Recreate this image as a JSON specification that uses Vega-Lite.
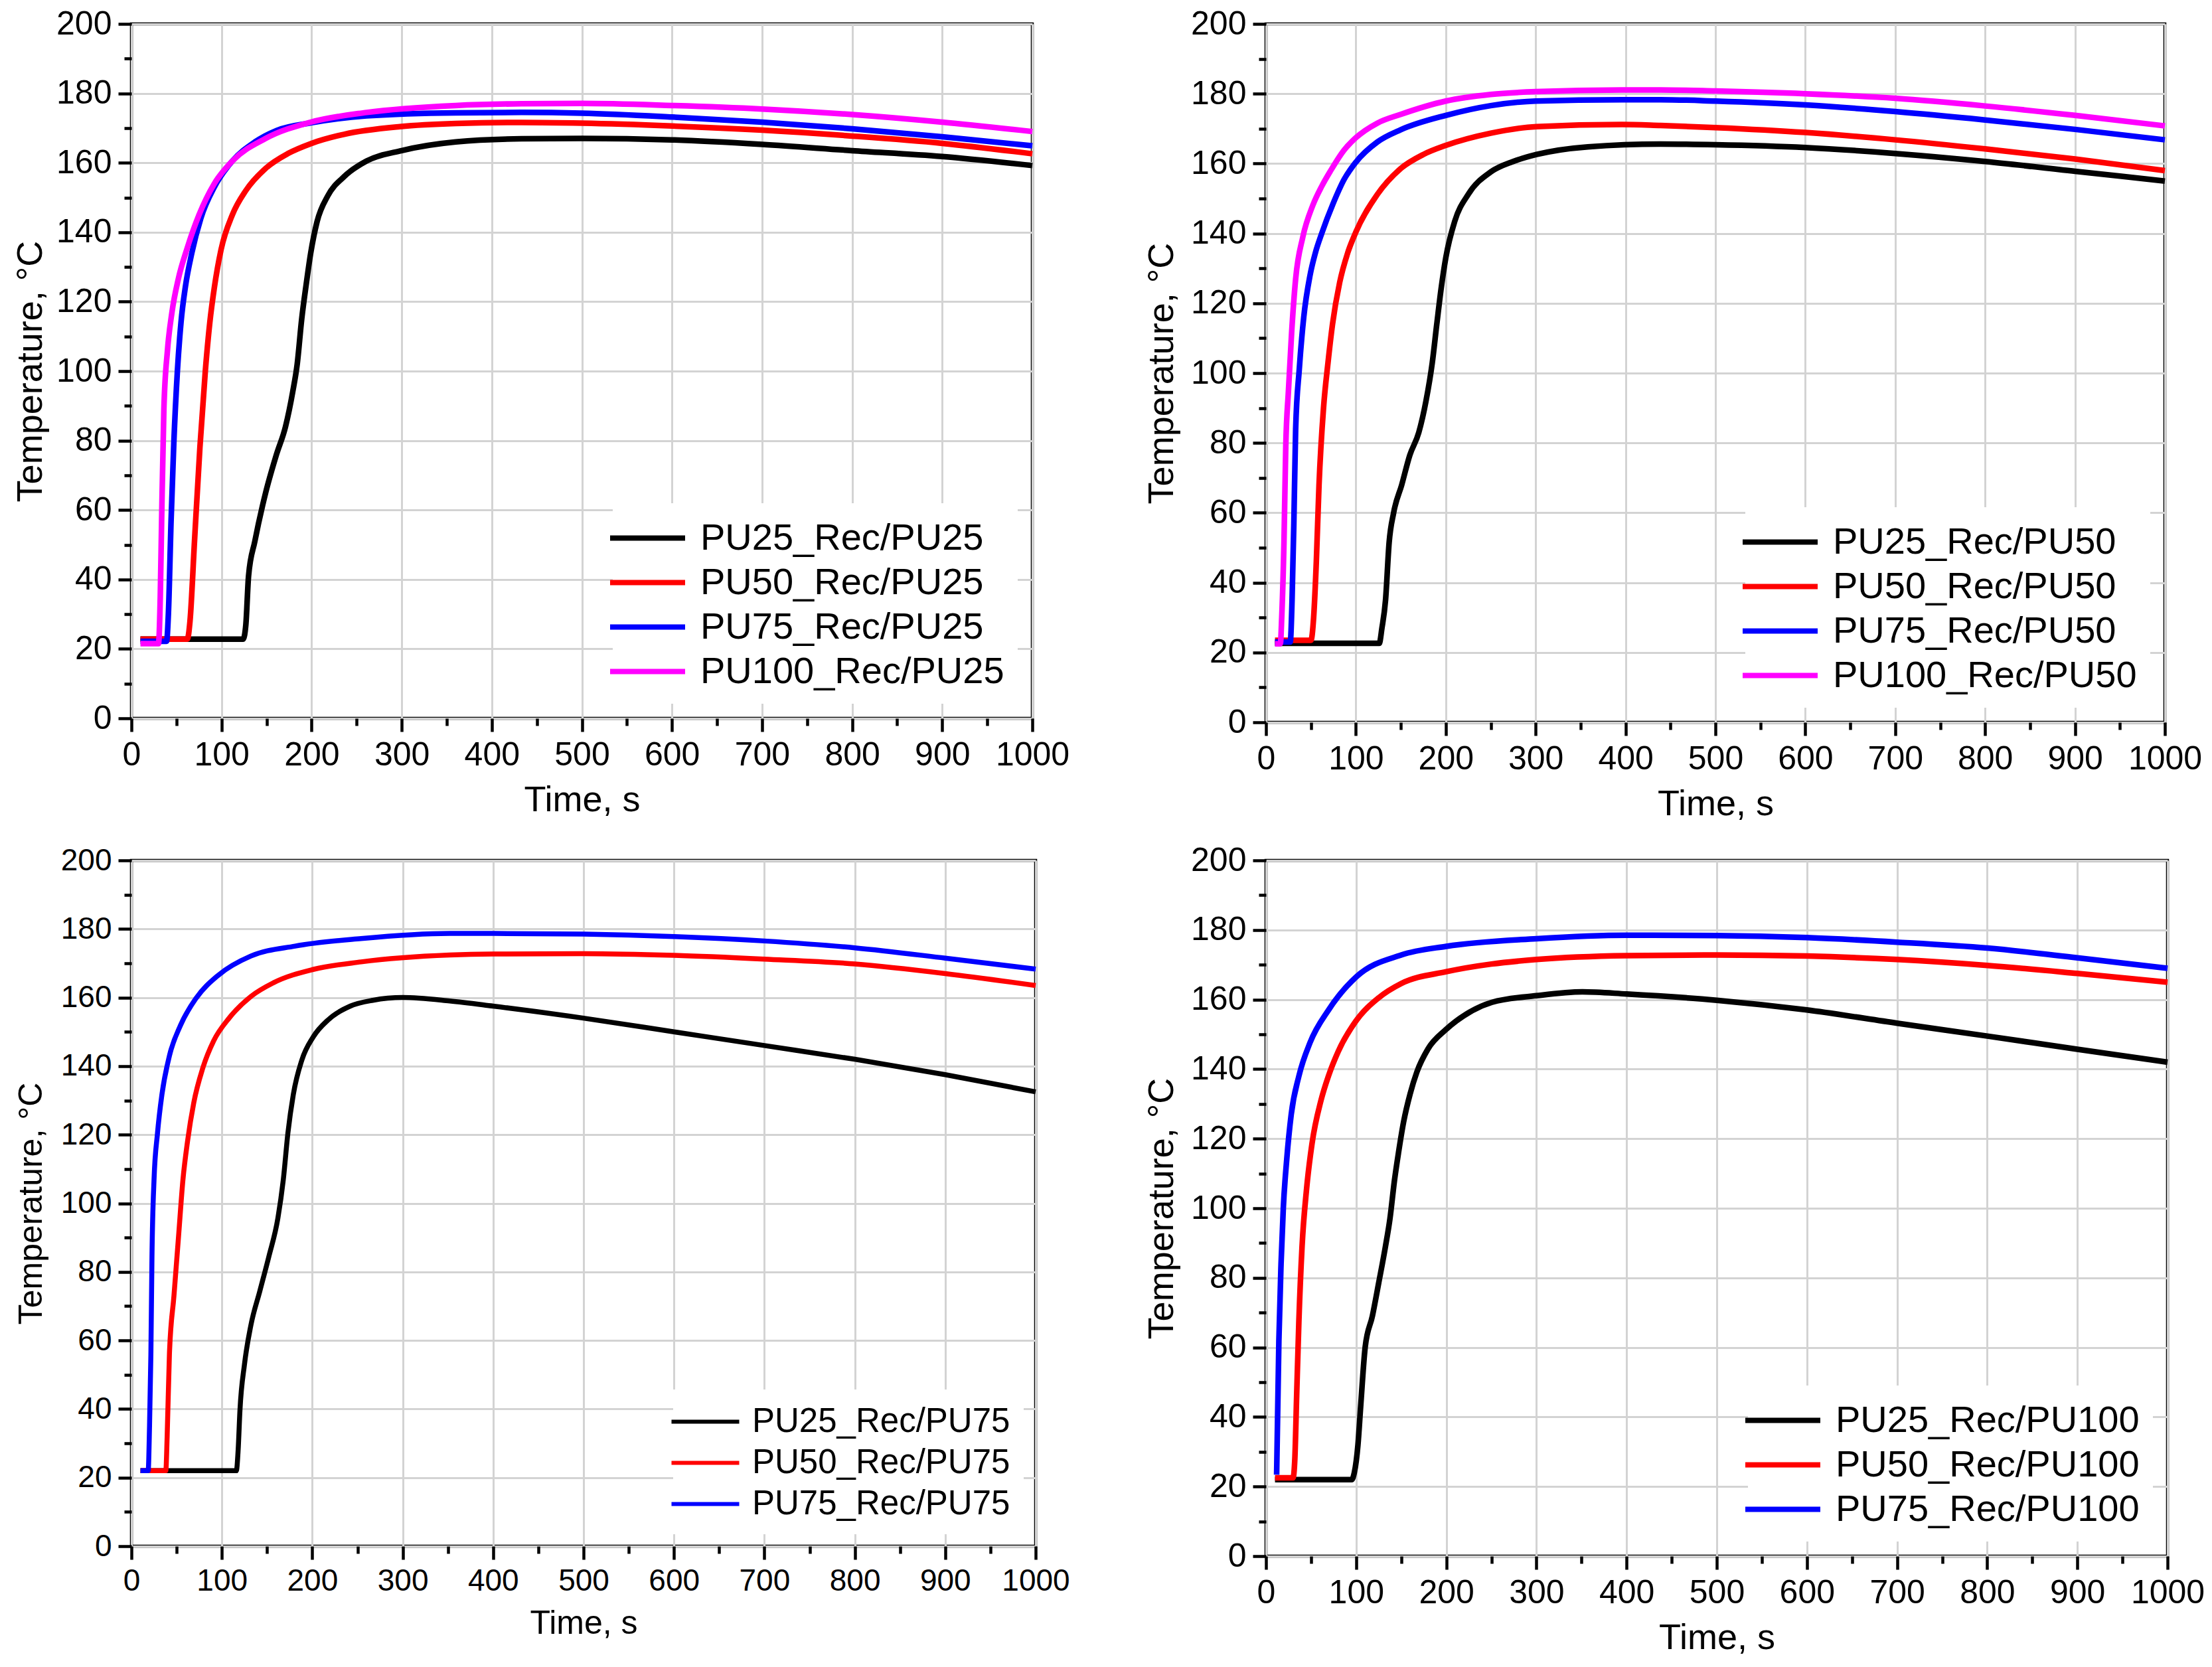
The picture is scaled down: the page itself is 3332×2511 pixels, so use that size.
{
  "$schema": "https://vega.github.io/schema/vega-lite/v6.json",
  "background": "white",
  "padding": {"left": 17, "top": 8, "right": 0, "bottom": 0},
  "config": {
    "font": "Liberation Sans",
    "view": {"stroke": "black", "strokeWidth": 4.5},
    "axis": {
      "labelFontSize": 50,
      "titleFontSize": 54,
      "titleFontWeight": "normal",
      "labelColor": "black",
      "titleColor": "black",
      "tickColor": "black",
      "tickWidth": 4.5,
      "tickSize": 20,
      "domain": false,
      "gridColor": "#D3D3D3",
      "gridWidth": 3,
      "labelPadding": 10,
      "titlePadding": 16,
      "labelFlush": false,
      "labelOverlap": false
    },
    "legend": {
      "orient": "bottom-right",
      "labelFontSize": 56,
      "labelColor": "black",
      "symbolType": "M-2,0H2",
      "symbolStrokeWidth": 8,
      "symbolSize": 3192,
      "labelOffset": 47,
      "rowPadding": 6,
      "fillColor": "white",
      "padding": 20,
      "offset": 22,
      "labelLimit": 0
    }
  },
  "datasets": {
    "p1": [
      {"series": "PU25_Rec/PU25", "time": 10, "temp": 22.8},
      {"series": "PU25_Rec/PU25", "time": 60, "temp": 22.8},
      {"series": "PU25_Rec/PU25", "time": 124, "temp": 22.8},
      {"series": "PU25_Rec/PU25", "time": 127, "temp": 27},
      {"series": "PU25_Rec/PU25", "time": 130, "temp": 41},
      {"series": "PU25_Rec/PU25", "time": 137, "temp": 51},
      {"series": "PU25_Rec/PU25", "time": 149, "temp": 65},
      {"series": "PU25_Rec/PU25", "time": 161, "temp": 76},
      {"series": "PU25_Rec/PU25", "time": 171, "temp": 84},
      {"series": "PU25_Rec/PU25", "time": 179, "temp": 94},
      {"series": "PU25_Rec/PU25", "time": 184, "temp": 102},
      {"series": "PU25_Rec/PU25", "time": 189, "temp": 115},
      {"series": "PU25_Rec/PU25", "time": 194, "temp": 125},
      {"series": "PU25_Rec/PU25", "time": 199, "temp": 134},
      {"series": "PU25_Rec/PU25", "time": 206, "temp": 143},
      {"series": "PU25_Rec/PU25", "time": 218, "temp": 150.5},
      {"series": "PU25_Rec/PU25", "time": 236, "temp": 156},
      {"series": "PU25_Rec/PU25", "time": 261, "temp": 160.5},
      {"series": "PU25_Rec/PU25", "time": 300, "temp": 163.5},
      {"series": "PU25_Rec/PU25", "time": 360, "temp": 166},
      {"series": "PU25_Rec/PU25", "time": 433, "temp": 166.9},
      {"series": "PU25_Rec/PU25", "time": 500, "temp": 167},
      {"series": "PU25_Rec/PU25", "time": 600, "temp": 166.6},
      {"series": "PU25_Rec/PU25", "time": 700, "temp": 165.3},
      {"series": "PU25_Rec/PU25", "time": 800, "temp": 163.5},
      {"series": "PU25_Rec/PU25", "time": 900, "temp": 161.8},
      {"series": "PU25_Rec/PU25", "time": 1000, "temp": 159.2},
      {"series": "PU50_Rec/PU25", "time": 10, "temp": 22.8},
      {"series": "PU50_Rec/PU25", "time": 62, "temp": 22.8},
      {"series": "PU50_Rec/PU25", "time": 65, "temp": 28},
      {"series": "PU50_Rec/PU25", "time": 70, "temp": 51},
      {"series": "PU50_Rec/PU25", "time": 76, "temp": 78},
      {"series": "PU50_Rec/PU25", "time": 82, "temp": 100},
      {"series": "PU50_Rec/PU25", "time": 87, "temp": 114},
      {"series": "PU50_Rec/PU25", "time": 92, "temp": 124},
      {"series": "PU50_Rec/PU25", "time": 99.5, "temp": 135},
      {"series": "PU50_Rec/PU25", "time": 112, "temp": 145},
      {"series": "PU50_Rec/PU25", "time": 127, "temp": 152},
      {"series": "PU50_Rec/PU25", "time": 149, "temp": 158.4},
      {"series": "PU50_Rec/PU25", "time": 174, "temp": 162.7},
      {"series": "PU50_Rec/PU25", "time": 199, "temp": 165.5},
      {"series": "PU50_Rec/PU25", "time": 236, "temp": 168.2},
      {"series": "PU50_Rec/PU25", "time": 298, "temp": 170.4},
      {"series": "PU50_Rec/PU25", "time": 360, "temp": 171.3},
      {"series": "PU50_Rec/PU25", "time": 433, "temp": 171.6},
      {"series": "PU50_Rec/PU25", "time": 500, "temp": 171.4},
      {"series": "PU50_Rec/PU25", "time": 600, "temp": 170.6},
      {"series": "PU50_Rec/PU25", "time": 700, "temp": 169.4},
      {"series": "PU50_Rec/PU25", "time": 800, "temp": 167.7},
      {"series": "PU50_Rec/PU25", "time": 900, "temp": 165.6},
      {"series": "PU50_Rec/PU25", "time": 1000, "temp": 162.6},
      {"series": "PU75_Rec/PU25", "time": 10, "temp": 22.2},
      {"series": "PU75_Rec/PU25", "time": 39, "temp": 22.2},
      {"series": "PU75_Rec/PU25", "time": 41, "temp": 30},
      {"series": "PU75_Rec/PU25", "time": 44, "temp": 57},
      {"series": "PU75_Rec/PU25", "time": 47, "temp": 79},
      {"series": "PU75_Rec/PU25", "time": 51, "temp": 100},
      {"series": "PU75_Rec/PU25", "time": 55, "temp": 114},
      {"series": "PU75_Rec/PU25", "time": 60, "temp": 124.5},
      {"series": "PU75_Rec/PU25", "time": 67, "temp": 134},
      {"series": "PU75_Rec/PU25", "time": 77, "temp": 144},
      {"series": "PU75_Rec/PU25", "time": 92, "temp": 153},
      {"series": "PU75_Rec/PU25", "time": 112, "temp": 160.5},
      {"series": "PU75_Rec/PU25", "time": 137, "temp": 166},
      {"series": "PU75_Rec/PU25", "time": 161, "temp": 169.3},
      {"series": "PU75_Rec/PU25", "time": 199, "temp": 171.5},
      {"series": "PU75_Rec/PU25", "time": 261, "temp": 173.5},
      {"series": "PU75_Rec/PU25", "time": 360, "temp": 174.4},
      {"series": "PU75_Rec/PU25", "time": 433, "temp": 174.5},
      {"series": "PU75_Rec/PU25", "time": 500, "temp": 174.3},
      {"series": "PU75_Rec/PU25", "time": 600, "temp": 173.2},
      {"series": "PU75_Rec/PU25", "time": 700, "temp": 171.7},
      {"series": "PU75_Rec/PU25", "time": 800, "temp": 169.8},
      {"series": "PU75_Rec/PU25", "time": 900, "temp": 167.5},
      {"series": "PU75_Rec/PU25", "time": 1000, "temp": 164.9},
      {"series": "PU100_Rec/PU25", "time": 10, "temp": 21.5},
      {"series": "PU100_Rec/PU25", "time": 30, "temp": 21.5},
      {"series": "PU100_Rec/PU25", "time": 32, "temp": 35},
      {"series": "PU100_Rec/PU25", "time": 33.5, "temp": 57},
      {"series": "PU100_Rec/PU25", "time": 36, "temp": 89},
      {"series": "PU100_Rec/PU25", "time": 40, "temp": 106},
      {"series": "PU100_Rec/PU25", "time": 45, "temp": 117},
      {"series": "PU100_Rec/PU25", "time": 52, "temp": 126.5},
      {"series": "PU100_Rec/PU25", "time": 62, "temp": 135.5},
      {"series": "PU100_Rec/PU25", "time": 75, "temp": 145},
      {"series": "PU100_Rec/PU25", "time": 92, "temp": 154},
      {"series": "PU100_Rec/PU25", "time": 112, "temp": 160.5},
      {"series": "PU100_Rec/PU25", "time": 149, "temp": 167},
      {"series": "PU100_Rec/PU25", "time": 199, "temp": 171.7},
      {"series": "PU100_Rec/PU25", "time": 261, "temp": 174.5},
      {"series": "PU100_Rec/PU25", "time": 360, "temp": 176.5},
      {"series": "PU100_Rec/PU25", "time": 433, "temp": 177},
      {"series": "PU100_Rec/PU25", "time": 500, "temp": 177.1},
      {"series": "PU100_Rec/PU25", "time": 600, "temp": 176.5},
      {"series": "PU100_Rec/PU25", "time": 700, "temp": 175.5},
      {"series": "PU100_Rec/PU25", "time": 800, "temp": 173.9},
      {"series": "PU100_Rec/PU25", "time": 900, "temp": 171.7},
      {"series": "PU100_Rec/PU25", "time": 1000, "temp": 169}
    ],
    "p2": [
      {"series": "PU25_Rec/PU50", "time": 10, "temp": 22.6},
      {"series": "PU25_Rec/PU50", "time": 126, "temp": 22.6},
      {"series": "PU25_Rec/PU50", "time": 129, "temp": 27},
      {"series": "PU25_Rec/PU50", "time": 133, "temp": 35},
      {"series": "PU25_Rec/PU50", "time": 137, "temp": 51.5},
      {"series": "PU25_Rec/PU50", "time": 142, "temp": 60},
      {"series": "PU25_Rec/PU50", "time": 151, "temp": 68},
      {"series": "PU25_Rec/PU50", "time": 160, "temp": 76.5},
      {"series": "PU25_Rec/PU50", "time": 170, "temp": 83},
      {"series": "PU25_Rec/PU50", "time": 178, "temp": 92},
      {"series": "PU25_Rec/PU50", "time": 185, "temp": 103},
      {"series": "PU25_Rec/PU50", "time": 190, "temp": 114},
      {"series": "PU25_Rec/PU50", "time": 195, "temp": 124.5},
      {"series": "PU25_Rec/PU50", "time": 200, "temp": 133},
      {"series": "PU25_Rec/PU50", "time": 210, "temp": 143.5},
      {"series": "PU25_Rec/PU50", "time": 225, "temp": 151.2},
      {"series": "PU25_Rec/PU50", "time": 250, "temp": 157.6},
      {"series": "PU25_Rec/PU50", "time": 275, "temp": 160.6},
      {"series": "PU25_Rec/PU50", "time": 301, "temp": 162.6},
      {"series": "PU25_Rec/PU50", "time": 358, "temp": 164.8},
      {"series": "PU25_Rec/PU50", "time": 439, "temp": 165.6},
      {"series": "PU25_Rec/PU50", "time": 500, "temp": 165.4},
      {"series": "PU25_Rec/PU50", "time": 600, "temp": 164.6},
      {"series": "PU25_Rec/PU50", "time": 700, "temp": 162.9},
      {"series": "PU25_Rec/PU50", "time": 800, "temp": 160.6},
      {"series": "PU25_Rec/PU50", "time": 900, "temp": 157.8},
      {"series": "PU25_Rec/PU50", "time": 1000, "temp": 155},
      {"series": "PU50_Rec/PU50", "time": 10, "temp": 23.5},
      {"series": "PU50_Rec/PU50", "time": 50, "temp": 23.5},
      {"series": "PU50_Rec/PU50", "time": 53, "temp": 30},
      {"series": "PU50_Rec/PU50", "time": 56, "temp": 46},
      {"series": "PU50_Rec/PU50", "time": 59, "temp": 68},
      {"series": "PU50_Rec/PU50", "time": 64, "temp": 90},
      {"series": "PU50_Rec/PU50", "time": 69, "temp": 103},
      {"series": "PU50_Rec/PU50", "time": 74, "temp": 114},
      {"series": "PU50_Rec/PU50", "time": 82, "temp": 126},
      {"series": "PU50_Rec/PU50", "time": 91, "temp": 134.5},
      {"series": "PU50_Rec/PU50", "time": 100, "temp": 140.4},
      {"series": "PU50_Rec/PU50", "time": 124, "temp": 151.2},
      {"series": "PU50_Rec/PU50", "time": 150, "temp": 158.6},
      {"series": "PU50_Rec/PU50", "time": 175, "temp": 162.6},
      {"series": "PU50_Rec/PU50", "time": 200, "temp": 165.2},
      {"series": "PU50_Rec/PU50", "time": 250, "temp": 168.7},
      {"series": "PU50_Rec/PU50", "time": 301, "temp": 170.6},
      {"series": "PU50_Rec/PU50", "time": 396, "temp": 171.2},
      {"series": "PU50_Rec/PU50", "time": 439, "temp": 170.9},
      {"series": "PU50_Rec/PU50", "time": 500, "temp": 170.3},
      {"series": "PU50_Rec/PU50", "time": 600, "temp": 168.9},
      {"series": "PU50_Rec/PU50", "time": 700, "temp": 166.8},
      {"series": "PU50_Rec/PU50", "time": 800, "temp": 164.2},
      {"series": "PU50_Rec/PU50", "time": 900, "temp": 161.3},
      {"series": "PU50_Rec/PU50", "time": 1000, "temp": 158},
      {"series": "PU75_Rec/PU50", "time": 10, "temp": 23},
      {"series": "PU75_Rec/PU50", "time": 27, "temp": 23},
      {"series": "PU75_Rec/PU50", "time": 29, "temp": 35},
      {"series": "PU75_Rec/PU50", "time": 31, "temp": 57},
      {"series": "PU75_Rec/PU50", "time": 33, "temp": 84},
      {"series": "PU75_Rec/PU50", "time": 37, "temp": 101},
      {"series": "PU75_Rec/PU50", "time": 42, "temp": 116},
      {"series": "PU75_Rec/PU50", "time": 49, "temp": 128},
      {"series": "PU75_Rec/PU50", "time": 55, "temp": 134.5},
      {"series": "PU75_Rec/PU50", "time": 62, "temp": 140},
      {"series": "PU75_Rec/PU50", "time": 74.6, "temp": 148.5},
      {"series": "PU75_Rec/PU50", "time": 87, "temp": 155.5},
      {"series": "PU75_Rec/PU50", "time": 100, "temp": 160.4},
      {"series": "PU75_Rec/PU50", "time": 124, "temp": 166.2},
      {"series": "PU75_Rec/PU50", "time": 150, "temp": 169.7},
      {"series": "PU75_Rec/PU50", "time": 200, "temp": 173.8},
      {"series": "PU75_Rec/PU50", "time": 250, "temp": 176.6},
      {"series": "PU75_Rec/PU50", "time": 300, "temp": 177.9},
      {"series": "PU75_Rec/PU50", "time": 396, "temp": 178.3},
      {"series": "PU75_Rec/PU50", "time": 439, "temp": 178.3},
      {"series": "PU75_Rec/PU50", "time": 500, "temp": 177.9},
      {"series": "PU75_Rec/PU50", "time": 600, "temp": 176.8},
      {"series": "PU75_Rec/PU50", "time": 700, "temp": 174.9},
      {"series": "PU75_Rec/PU50", "time": 800, "temp": 172.5},
      {"series": "PU75_Rec/PU50", "time": 900, "temp": 169.8},
      {"series": "PU75_Rec/PU50", "time": 1000, "temp": 166.8},
      {"series": "PU100_Rec/PU50", "time": 10, "temp": 22.5},
      {"series": "PU100_Rec/PU50", "time": 16, "temp": 22.5},
      {"series": "PU100_Rec/PU50", "time": 17.5, "temp": 30},
      {"series": "PU100_Rec/PU50", "time": 20, "temp": 51.5},
      {"series": "PU100_Rec/PU50", "time": 22, "temp": 79},
      {"series": "PU100_Rec/PU50", "time": 25, "temp": 95},
      {"series": "PU100_Rec/PU50", "time": 28.5, "temp": 111.5},
      {"series": "PU100_Rec/PU50", "time": 33, "temp": 127},
      {"series": "PU100_Rec/PU50", "time": 41, "temp": 139},
      {"series": "PU100_Rec/PU50", "time": 52, "temp": 148},
      {"series": "PU100_Rec/PU50", "time": 62, "temp": 153.5},
      {"series": "PU100_Rec/PU50", "time": 72, "temp": 158},
      {"series": "PU100_Rec/PU50", "time": 87, "temp": 163.9},
      {"series": "PU100_Rec/PU50", "time": 100, "temp": 167.4},
      {"series": "PU100_Rec/PU50", "time": 124, "temp": 171.6},
      {"series": "PU100_Rec/PU50", "time": 150, "temp": 174.1},
      {"series": "PU100_Rec/PU50", "time": 200, "temp": 177.9},
      {"series": "PU100_Rec/PU50", "time": 250, "temp": 179.8},
      {"series": "PU100_Rec/PU50", "time": 300, "temp": 180.6},
      {"series": "PU100_Rec/PU50", "time": 396, "temp": 181.1},
      {"series": "PU100_Rec/PU50", "time": 439, "temp": 181.1},
      {"series": "PU100_Rec/PU50", "time": 500, "temp": 180.8},
      {"series": "PU100_Rec/PU50", "time": 600, "temp": 180},
      {"series": "PU100_Rec/PU50", "time": 700, "temp": 178.7},
      {"series": "PU100_Rec/PU50", "time": 800, "temp": 176.5},
      {"series": "PU100_Rec/PU50", "time": 900, "temp": 173.8},
      {"series": "PU100_Rec/PU50", "time": 1000, "temp": 170.8}
    ],
    "p3": [
      {"series": "PU25_Rec/PU75", "time": 10, "temp": 22},
      {"series": "PU25_Rec/PU75", "time": 116, "temp": 22},
      {"series": "PU25_Rec/PU75", "time": 118, "temp": 28},
      {"series": "PU25_Rec/PU75", "time": 120, "temp": 39.6},
      {"series": "PU25_Rec/PU75", "time": 125, "temp": 53},
      {"series": "PU25_Rec/PU75", "time": 132, "temp": 64.3},
      {"series": "PU25_Rec/PU75", "time": 142, "temp": 74.4},
      {"series": "PU25_Rec/PU75", "time": 152, "temp": 84.5},
      {"series": "PU25_Rec/PU75", "time": 162, "temp": 95.7},
      {"series": "PU25_Rec/PU75", "time": 168, "temp": 107},
      {"series": "PU25_Rec/PU75", "time": 173, "temp": 120.4},
      {"series": "PU25_Rec/PU75", "time": 179, "temp": 131.7},
      {"series": "PU25_Rec/PU75", "time": 188.5, "temp": 141.8},
      {"series": "PU25_Rec/PU75", "time": 201, "temp": 148.5},
      {"series": "PU25_Rec/PU75", "time": 218, "temp": 153.6},
      {"series": "PU25_Rec/PU75", "time": 242, "temp": 157.5},
      {"series": "PU25_Rec/PU75", "time": 267, "temp": 159.2},
      {"series": "PU25_Rec/PU75", "time": 300, "temp": 160},
      {"series": "PU25_Rec/PU75", "time": 352, "temp": 159},
      {"series": "PU25_Rec/PU75", "time": 400, "temp": 157.5},
      {"series": "PU25_Rec/PU75", "time": 500, "temp": 154},
      {"series": "PU25_Rec/PU75", "time": 600, "temp": 150},
      {"series": "PU25_Rec/PU75", "time": 700, "temp": 146},
      {"series": "PU25_Rec/PU75", "time": 800, "temp": 142},
      {"series": "PU25_Rec/PU75", "time": 900, "temp": 137.5},
      {"series": "PU25_Rec/PU75", "time": 1000, "temp": 132.5},
      {"series": "PU50_Rec/PU75", "time": 10, "temp": 22},
      {"series": "PU50_Rec/PU75", "time": 38, "temp": 22},
      {"series": "PU50_Rec/PU75", "time": 39.5, "temp": 32},
      {"series": "PU50_Rec/PU75", "time": 42, "temp": 56},
      {"series": "PU50_Rec/PU75", "time": 47, "temp": 73},
      {"series": "PU50_Rec/PU75", "time": 52, "temp": 90},
      {"series": "PU50_Rec/PU75", "time": 57, "temp": 107},
      {"series": "PU50_Rec/PU75", "time": 62, "temp": 118},
      {"series": "PU50_Rec/PU75", "time": 69, "temp": 129.4},
      {"series": "PU50_Rec/PU75", "time": 79, "temp": 139.5},
      {"series": "PU50_Rec/PU75", "time": 91, "temp": 147.4},
      {"series": "PU50_Rec/PU75", "time": 108, "temp": 154},
      {"series": "PU50_Rec/PU75", "time": 132, "temp": 160.3},
      {"series": "PU50_Rec/PU75", "time": 157, "temp": 164.3},
      {"series": "PU50_Rec/PU75", "time": 201, "temp": 168.2},
      {"series": "PU50_Rec/PU75", "time": 254, "temp": 170.4},
      {"series": "PU50_Rec/PU75", "time": 352, "temp": 172.4},
      {"series": "PU50_Rec/PU75", "time": 400, "temp": 172.7},
      {"series": "PU50_Rec/PU75", "time": 500, "temp": 172.8},
      {"series": "PU50_Rec/PU75", "time": 600, "temp": 172.3},
      {"series": "PU50_Rec/PU75", "time": 700, "temp": 171.2},
      {"series": "PU50_Rec/PU75", "time": 800, "temp": 169.8},
      {"series": "PU50_Rec/PU75", "time": 900, "temp": 167},
      {"series": "PU50_Rec/PU75", "time": 1000, "temp": 163.5},
      {"series": "PU75_Rec/PU75", "time": 10, "temp": 22},
      {"series": "PU75_Rec/PU75", "time": 18.5, "temp": 22},
      {"series": "PU75_Rec/PU75", "time": 20, "temp": 35},
      {"series": "PU75_Rec/PU75", "time": 21.5, "temp": 56},
      {"series": "PU75_Rec/PU75", "time": 22.7, "temp": 84.5},
      {"series": "PU75_Rec/PU75", "time": 25, "temp": 107},
      {"series": "PU75_Rec/PU75", "time": 28.8, "temp": 120.4},
      {"series": "PU75_Rec/PU75", "time": 33.7, "temp": 131.7},
      {"series": "PU75_Rec/PU75", "time": 42, "temp": 143},
      {"series": "PU75_Rec/PU75", "time": 54.4, "temp": 152},
      {"series": "PU75_Rec/PU75", "time": 71.5, "temp": 159.8},
      {"series": "PU75_Rec/PU75", "time": 96, "temp": 166.5},
      {"series": "PU75_Rec/PU75", "time": 132, "temp": 172.1},
      {"series": "PU75_Rec/PU75", "time": 181, "temp": 175},
      {"series": "PU75_Rec/PU75", "time": 254, "temp": 177.2},
      {"series": "PU75_Rec/PU75", "time": 352, "temp": 178.7},
      {"series": "PU75_Rec/PU75", "time": 400, "temp": 178.7},
      {"series": "PU75_Rec/PU75", "time": 500, "temp": 178.5},
      {"series": "PU75_Rec/PU75", "time": 600, "temp": 177.8},
      {"series": "PU75_Rec/PU75", "time": 700, "temp": 176.5},
      {"series": "PU75_Rec/PU75", "time": 800, "temp": 174.5},
      {"series": "PU75_Rec/PU75", "time": 900, "temp": 171.5},
      {"series": "PU75_Rec/PU75", "time": 1000, "temp": 168.3}
    ],
    "p4": [
      {"series": "PU25_Rec/PU100", "time": 10, "temp": 22},
      {"series": "PU25_Rec/PU100", "time": 95, "temp": 22},
      {"series": "PU25_Rec/PU100", "time": 98, "temp": 24},
      {"series": "PU25_Rec/PU100", "time": 102, "temp": 32},
      {"series": "PU25_Rec/PU100", "time": 105, "temp": 43},
      {"series": "PU25_Rec/PU100", "time": 110, "temp": 60},
      {"series": "PU25_Rec/PU100", "time": 118, "temp": 69},
      {"series": "PU25_Rec/PU100", "time": 125, "temp": 78.5},
      {"series": "PU25_Rec/PU100", "time": 132.5, "temp": 89},
      {"series": "PU25_Rec/PU100", "time": 137.5, "temp": 97},
      {"series": "PU25_Rec/PU100", "time": 142.5, "temp": 108},
      {"series": "PU25_Rec/PU100", "time": 147, "temp": 116},
      {"series": "PU25_Rec/PU100", "time": 152.7, "temp": 124.9},
      {"series": "PU25_Rec/PU100", "time": 160, "temp": 133},
      {"series": "PU25_Rec/PU100", "time": 167.4, "temp": 139.2},
      {"series": "PU25_Rec/PU100", "time": 179.7, "temp": 145.8},
      {"series": "PU25_Rec/PU100", "time": 199.3, "temp": 151.3},
      {"series": "PU25_Rec/PU100", "time": 226, "temp": 156.4},
      {"series": "PU25_Rec/PU100", "time": 250.7, "temp": 159.2},
      {"series": "PU25_Rec/PU100", "time": 300, "temp": 161.1},
      {"series": "PU25_Rec/PU100", "time": 351, "temp": 162.2},
      {"series": "PU25_Rec/PU100", "time": 400, "temp": 161.6},
      {"series": "PU25_Rec/PU100", "time": 500, "temp": 159.8},
      {"series": "PU25_Rec/PU100", "time": 600, "temp": 157},
      {"series": "PU25_Rec/PU100", "time": 700, "temp": 153.2},
      {"series": "PU25_Rec/PU100", "time": 800, "temp": 149.5},
      {"series": "PU25_Rec/PU100", "time": 900, "temp": 145.7},
      {"series": "PU25_Rec/PU100", "time": 1000, "temp": 142},
      {"series": "PU50_Rec/PU100", "time": 10, "temp": 22.5},
      {"series": "PU50_Rec/PU100", "time": 30, "temp": 22.5},
      {"series": "PU50_Rec/PU100", "time": 32, "temp": 28},
      {"series": "PU50_Rec/PU100", "time": 34, "temp": 46},
      {"series": "PU50_Rec/PU100", "time": 36.5, "temp": 67.7},
      {"series": "PU50_Rec/PU100", "time": 40, "temp": 89},
      {"series": "PU50_Rec/PU100", "time": 45, "temp": 105.5},
      {"series": "PU50_Rec/PU100", "time": 51, "temp": 118.5},
      {"series": "PU50_Rec/PU100", "time": 61, "temp": 131},
      {"series": "PU50_Rec/PU100", "time": 69.4, "temp": 138.1},
      {"series": "PU50_Rec/PU100", "time": 80, "temp": 145},
      {"series": "PU50_Rec/PU100", "time": 100, "temp": 153.9},
      {"series": "PU50_Rec/PU100", "time": 125, "temp": 160.5},
      {"series": "PU50_Rec/PU100", "time": 150, "temp": 164.6},
      {"series": "PU50_Rec/PU100", "time": 200, "temp": 168},
      {"series": "PU50_Rec/PU100", "time": 250, "temp": 170.2},
      {"series": "PU50_Rec/PU100", "time": 300, "temp": 171.5},
      {"series": "PU50_Rec/PU100", "time": 400, "temp": 172.6},
      {"series": "PU50_Rec/PU100", "time": 500, "temp": 172.8},
      {"series": "PU50_Rec/PU100", "time": 600, "temp": 172.5},
      {"series": "PU50_Rec/PU100", "time": 700, "temp": 171.5},
      {"series": "PU50_Rec/PU100", "time": 800, "temp": 169.8},
      {"series": "PU50_Rec/PU100", "time": 900, "temp": 167.5},
      {"series": "PU50_Rec/PU100", "time": 1000, "temp": 165},
      {"series": "PU75_Rec/PU100", "time": 11.8, "temp": 23.4},
      {"series": "PU75_Rec/PU100", "time": 14.3, "temp": 62},
      {"series": "PU75_Rec/PU100", "time": 16.7, "temp": 84},
      {"series": "PU75_Rec/PU100", "time": 19.2, "temp": 100},
      {"series": "PU75_Rec/PU100", "time": 23, "temp": 114},
      {"series": "PU75_Rec/PU100", "time": 28, "temp": 127},
      {"series": "PU75_Rec/PU100", "time": 36.5, "temp": 138},
      {"series": "PU75_Rec/PU100", "time": 49, "temp": 147.7},
      {"series": "PU75_Rec/PU100", "time": 69.4, "temp": 157},
      {"series": "PU75_Rec/PU100", "time": 100, "temp": 166.5},
      {"series": "PU75_Rec/PU100", "time": 150, "temp": 172.8},
      {"series": "PU75_Rec/PU100", "time": 200, "temp": 175.3},
      {"series": "PU75_Rec/PU100", "time": 300, "temp": 177.5},
      {"series": "PU75_Rec/PU100", "time": 400, "temp": 178.5},
      {"series": "PU75_Rec/PU100", "time": 500, "temp": 178.4},
      {"series": "PU75_Rec/PU100", "time": 600, "temp": 177.8},
      {"series": "PU75_Rec/PU100", "time": 700, "temp": 176.5},
      {"series": "PU75_Rec/PU100", "time": 800, "temp": 174.8},
      {"series": "PU75_Rec/PU100", "time": 900, "temp": 172},
      {"series": "PU75_Rec/PU100", "time": 1000, "temp": 169}
    ]
  },
  "spacing": 27,
  "resolve": {"scale": {"color": "independent", "x": "independent", "y": "independent"}},
  "vconcat": [
    {
      "spacing": 108,
      "resolve": {"scale": {"color": "independent", "x": "independent", "y": "independent"}},
      "hconcat": [
        {
          "width": 1357,
          "height": 1046,
          "data": {"name": "p1"},
          "resolve": {"axis": {"x": "independent", "y": "independent"}},
          "layer": [
            {
              "mark": {"type": "line", "strokeWidth": 8.5, "interpolate": "monotone"},
              "encoding": {
                "x": {"field": "time", "type": "quantitative", "scale": {"domain": [0, 1000], "nice": false},
                  "axis": {"orient": "bottom", "title": "Time, s", "format": "d", "values": [0, 100, 200, 300, 400, 500, 600, 700, 800, 900, 1000]}},
                "y": {"field": "temp", "type": "quantitative", "scale": {"domain": [0, 200], "nice": false},
                  "axis": {"orient": "left", "title": "Temperature, °C", "titlePadding": 11, "values": [0, 20, 40, 60, 80, 100, 120, 140, 160, 180, 200]}},
                "color": {"field": "series", "type": "nominal",
                  "scale": {"domain": ["PU25_Rec/PU25", "PU50_Rec/PU25", "PU75_Rec/PU25", "PU100_Rec/PU25"], "range": ["#000000", "#FF0000", "#0000FF", "#FF00FF"]},
                  "legend": {"title": null}}
              }
            },
            {
              "mark": {"type": "line", "opacity": 0},
              "encoding": {
                "x": {"field": "time", "type": "quantitative",
                  "axis": {"orient": "bottom", "title": null, "labels": false, "tickSize": 11, "gridDash": [9, 7], "gridWidth": 2, "gridColor": "#D8D8D8", "values": [50, 150, 250, 350, 450, 550, 650, 750, 850, 950]}},
                "y": {"field": "temp", "type": "quantitative",
                  "axis": {"orient": "left", "title": null, "labels": false, "tickSize": 11, "gridDash": [9, 7], "gridWidth": 2, "gridColor": "#D8D8D8", "values": [10, 30, 50, 70, 90, 110, 130, 150, 170, 190]}},
                "detail": {"field": "series"}
              }
            }
          ]
        },
        {
          "width": 1354,
          "height": 1052,
          "data": {"name": "p2"},
          "resolve": {"axis": {"x": "independent", "y": "independent"}},
          "layer": [
            {
              "mark": {"type": "line", "strokeWidth": 8.5, "interpolate": "monotone"},
              "encoding": {
                "x": {"field": "time", "type": "quantitative", "scale": {"domain": [0, 1000], "nice": false},
                  "axis": {"orient": "bottom", "title": "Time, s", "format": "d", "values": [0, 100, 200, 300, 400, 500, 600, 700, 800, 900, 1000]}},
                "y": {"field": "temp", "type": "quantitative", "scale": {"domain": [0, 200], "nice": false},
                  "axis": {"orient": "left", "title": "Temperature, °C", "values": [0, 20, 40, 60, 80, 100, 120, 140, 160, 180, 200]}},
                "color": {"field": "series", "type": "nominal",
                  "scale": {"domain": ["PU25_Rec/PU50", "PU50_Rec/PU50", "PU75_Rec/PU50", "PU100_Rec/PU50"], "range": ["#000000", "#FF0000", "#0000FF", "#FF00FF"]},
                  "legend": {"title": null}}
              }
            },
            {
              "mark": {"type": "line", "opacity": 0},
              "encoding": {
                "x": {"field": "time", "type": "quantitative",
                  "axis": {"orient": "bottom", "title": null, "labels": false, "tickSize": 11, "gridDash": [9, 7], "gridWidth": 2, "gridColor": "#D8D8D8", "values": [50, 150, 250, 350, 450, 550, 650, 750, 850, 950]}},
                "y": {"field": "temp", "type": "quantitative",
                  "axis": {"orient": "left", "title": null, "labels": false, "tickSize": 11, "gridDash": [9, 7], "gridWidth": 2, "gridColor": "#D8D8D8", "values": [10, 30, 50, 70, 90, 110, 130, 150, 170, 190]}},
                "detail": {"field": "series"}
              }
            }
          ]
        }
      ]
    },
    {
      "spacing": 107,
      "resolve": {"scale": {"color": "independent", "x": "independent", "y": "independent"}},
      "hconcat": [
        {
          "width": 1362,
          "height": 1033,
          "data": {"name": "p3"},
          "resolve": {"axis": {"x": "independent", "y": "independent"}},
          "layer": [
            {
              "mark": {"type": "line", "strokeWidth": 7.5, "interpolate": "monotone"},
              "encoding": {
                "x": {"field": "time", "type": "quantitative", "scale": {"domain": [0, 1000], "nice": false},
                  "axis": {"orient": "bottom", "title": "Time, s", "format": "d", "labelFontSize": 46, "titleFontSize": 50, "values": [0, 100, 200, 300, 400, 500, 600, 700, 800, 900, 1000]}},
                "y": {"field": "temp", "type": "quantitative", "scale": {"domain": [0, 200], "nice": false},
                  "axis": {"orient": "left", "title": "Temperature, °C", "titlePadding": 19, "labelFontSize": 46, "titleFontSize": 50, "values": [0, 20, 40, 60, 80, 100, 120, 140, 160, 180, 200]}},
                "color": {"field": "series", "type": "nominal",
                  "scale": {"domain": ["PU25_Rec/PU75", "PU50_Rec/PU75", "PU75_Rec/PU75"], "range": ["#000000", "#FF0000", "#0000FF"]},
                  "legend": {"title": null, "labelFontSize": 51, "symbolStrokeWidth": 6, "symbolSize": 2601, "labelOffset": 42, "rowPadding": 8, "offset": 18}}
              }
            },
            {
              "mark": {"type": "line", "opacity": 0},
              "encoding": {
                "x": {"field": "time", "type": "quantitative",
                  "axis": {"orient": "bottom", "title": null, "labels": false, "tickSize": 11, "gridDash": [9, 7], "gridWidth": 2, "gridColor": "#D8D8D8", "values": [50, 150, 250, 350, 450, 550, 650, 750, 850, 950]}},
                "y": {"field": "temp", "type": "quantitative",
                  "axis": {"orient": "left", "title": null, "labels": false, "tickSize": 11, "gridDash": [9, 7], "gridWidth": 2, "gridColor": "#D8D8D8", "values": [10, 30, 50, 70, 90, 110, 130, 150, 170, 190]}},
                "detail": {"field": "series"}
              }
            }
          ]
        },
        {
          "width": 1358,
          "height": 1048,
          "data": {"name": "p4"},
          "resolve": {"axis": {"x": "independent", "y": "independent"}},
          "layer": [
            {
              "mark": {"type": "line", "strokeWidth": 8.5, "interpolate": "monotone"},
              "encoding": {
                "x": {"field": "time", "type": "quantitative", "scale": {"domain": [0, 1000], "nice": false},
                  "axis": {"orient": "bottom", "title": "Time, s", "format": "d", "values": [0, 100, 200, 300, 400, 500, 600, 700, 800, 900, 1000]}},
                "y": {"field": "temp", "type": "quantitative", "scale": {"domain": [0, 200], "nice": false},
                  "axis": {"orient": "left", "title": "Temperature, °C", "values": [0, 20, 40, 60, 80, 100, 120, 140, 160, 180, 200]}},
                "color": {"field": "series", "type": "nominal",
                  "scale": {"domain": ["PU25_Rec/PU100", "PU50_Rec/PU100", "PU75_Rec/PU100"], "range": ["#000000", "#FF0000", "#0000FF"]},
                  "legend": {"title": null}}
              }
            },
            {
              "mark": {"type": "line", "opacity": 0},
              "encoding": {
                "x": {"field": "time", "type": "quantitative",
                  "axis": {"orient": "bottom", "title": null, "labels": false, "tickSize": 11, "gridDash": [9, 7], "gridWidth": 2, "gridColor": "#D8D8D8", "values": [50, 150, 250, 350, 450, 550, 650, 750, 850, 950]}},
                "y": {"field": "temp", "type": "quantitative",
                  "axis": {"orient": "left", "title": null, "labels": false, "tickSize": 11, "gridDash": [9, 7], "gridWidth": 2, "gridColor": "#D8D8D8", "values": [10, 30, 50, 70, 90, 110, 130, 150, 170, 190]}},
                "detail": {"field": "series"}
              }
            }
          ]
        }
      ]
    }
  ]
}
